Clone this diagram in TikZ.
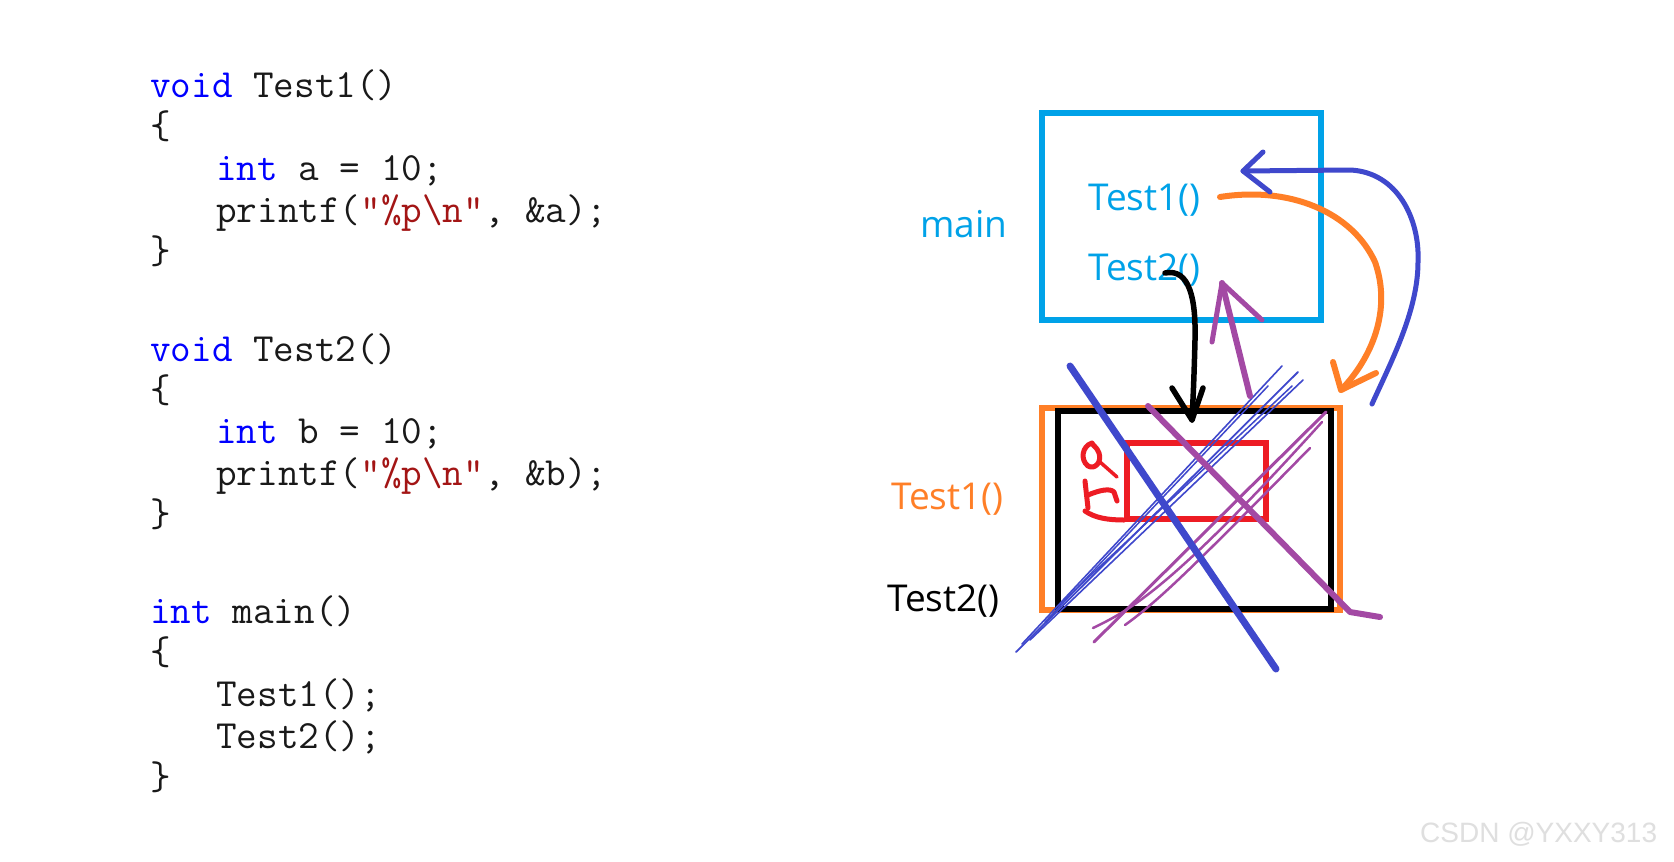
\documentclass[tikz,border=0pt]{standalone}
\usepackage{fontspec}
\newfontfamily\uifont{Open Sans}
\newfontfamily\wmfont{Liberation Sans}
\definecolor{kw}{RGB}{0,0,255}
\definecolor{str}{RGB}{163,21,21}
\definecolor{pcyan}{RGB}{0,162,232}
\definecolor{porange}{RGB}{255,127,39}
\definecolor{pred}{RGB}{237,28,36}
\definecolor{ppurple}{RGB}{163,73,164}
\definecolor{pblue}{RGB}{63,72,204}
\definecolor{codefg}{RGB}{25,25,25}
\tikzset{
  code/.style={anchor=base west, inner sep=0pt, text=codefg, font=\fontsize{40}{42}\selectfont\ttfamily},
  lbl/.style={anchor=base west, inner sep=0pt, font=\fontsize{37}{40}\selectfont\uifont},
  pen/.style={line cap=round, line join=round},
  framebox/.style={draw, line width=6pt, inner sep=0pt},
}
\begin{document}
\begin{tikzpicture}[x=1pt,y=-1pt]
\fill[white] (0,0) rectangle (1674,862);
\useasboundingbox (0,0) rectangle (1674,862);
% ---------- code ----------
\node[code] (c1)  at (150,97)  {\textcolor{kw}{void} Test1()};
\node[code] (c2)  at (150,138) {\{};
\node[code] (c3)  at (216,180) {\textcolor{kw}{int} a = 10;};
\node[code] (c4)  at (216,222) {printf(\textcolor{str}{”\%p\textbackslash n”}, \&a);};
\node[code] (c5)  at (150,263) {\}};
\node[code] (c6)  at (150,361) {\textcolor{kw}{void} Test2()};
\node[code] (c7)  at (150,402) {\{};
\node[code] (c8)  at (216,443) {\textcolor{kw}{int} b = 10;};
\node[code] (c9)  at (216,485) {printf(\textcolor{str}{”\%p\textbackslash n”}, \&b);};
\node[code] (c10) at (150,526) {\}};
\node[code] (c11) at (150,623) {\textcolor{kw}{int} main()};
\node[code] (c12) at (150,664) {\{};
\node[code] (c13) at (216,706) {Test1();};
\node[code] (c14) at (216,748) {Test2();};
\node[code] (c15) at (150,789) {\}};
% ---------- frames ----------
\node[framebox, draw=pcyan, minimum width=279pt, minimum height=207pt] (mainbox) at (1181.5,216.5) {};
\node[framebox, draw=porange, minimum width=298pt, minimum height=202pt] (t1box) at (1191,509) {};
\node[framebox, draw=black, minimum width=273pt, minimum height=198pt] (t2box) at (1194.5,510) {};
\node[framebox, draw=pred, minimum width=139pt, minimum height=76pt] (varbox) at (1196.5,481) {};
% ---------- labels ----------
\node[lbl, text=pcyan] (lmain) at (920,237) {main};
\node[lbl, text=pcyan] (lt1) at (1088,210) {Test1()};
\node[lbl, text=pcyan] (lt2) at (1088,280) {Test2()};
\node[lbl, text=porange] (lo1) at (891,509) {Test1()};
\node[lbl, text=black] (lo2) at (887,611) {Test2()};
% ---------- red scribble ----------
\draw[pen, pred, line width=5] (1092,443) .. controls (1082,446) and (1080,460) .. (1088,466)
   .. controls (1095,470) and (1102,462) .. (1099,453) .. controls (1097,447) and (1093,446) .. (1092,443);
\draw[pen, pred, line width=3.5] (1100,462) -- (1117,477);
\draw[pen, pred, line width=5] (1085,481) -- (1088,508);
\draw[pen, pred, line width=5] (1088,495) .. controls (1100,490) and (1110,488) .. (1114,492) -- (1117,501);
\draw[pen, pred, line width=5] (1085,511) .. controls (1095,518) and (1108,520) .. (1124,520);
% ---------- blue thin scribbles ----------
\draw[pen, pblue, line width=1.8] (1016,652) -- (1298,372);
\draw[pen, pblue, line width=1.6] (1022,644) -- (1282,366);
\draw[pen, pblue, line width=1.6] (1030,640) -- (1303,380);
\draw[pen, pblue, line width=1.5] (1045,622) -- (1268,386);
\draw[pen, pblue, line width=1.5] (1058,606) -- (1292,386);
% ---------- purple thin scribbles ----------
\draw[pen, ppurple, line width=3] (1094,642) -- (1326,412);
\draw[pen, ppurple, line width=2.5] (1093,628) .. controls (1130,610) and (1170,590) .. (1322,422);
\draw[pen, ppurple, line width=2.5] (1125,625) .. controls (1160,600) and (1200,560) .. (1310,448);
% ---------- big crosses ----------
\draw[pen, pblue, line width=7] (1070,366) -- (1276,669);
\draw[pen, ppurple, line width=6] (1148,406) -- (1350,612) -- (1380,617);
% ---------- black arrow Test2 call ----------
\coordinate (bs) at (1165,273);
\coordinate (bt) at (1192,420);
\draw[pen, black, line width=5.5] (bs) .. controls (1190,268) and (1196,300) .. (1195,340)
   .. controls (1194,380) and (1193,400) .. (bt);
\draw[pen, black, line width=5.5] (1172,388) -- (bt) -- (1203,388);
% ---------- purple arrow return ----------
\coordinate (ps) at (1250,396);
\coordinate (pt) at (1222,283);
\draw[pen, ppurple, line width=6] (ps) -- (pt);
\draw[pen, ppurple, line width=5] (1212,342) -- (pt) -- (1262,320);
% ---------- orange arrow Test1 call ----------
\coordinate (os) at (1220,197);
\coordinate (ot) at (1341,390);
\draw[pen, porange, line width=6] (os) .. controls (1290,186) and (1352,212) .. (1375,262)
   .. controls (1392,310) and (1372,358) .. (ot);
\draw[pen, porange, line width=6] (1333,362) -- (ot) -- (1376,373);
% ---------- blue arrow return ----------
\coordinate (qs) at (1372,404);
\coordinate (qt) at (1243,171);
\draw[pen, pblue, line width=5] (qs) .. controls (1392,360) and (1418,310) .. (1418,262)
   .. controls (1420,220) and (1398,172) .. (1350,170) -- (qt);
\draw[pen, pblue, line width=5] (1263,152) -- (qt) -- (1270,192);
% ---------- watermark ----------
\node[anchor=base west, inner sep=0pt, font=\fontsize{28}{30}\selectfont\wmfont, text=gray!25] (wm) at (1420,842) {CSDN @YXXY313};
\end{tikzpicture}
\end{document}
